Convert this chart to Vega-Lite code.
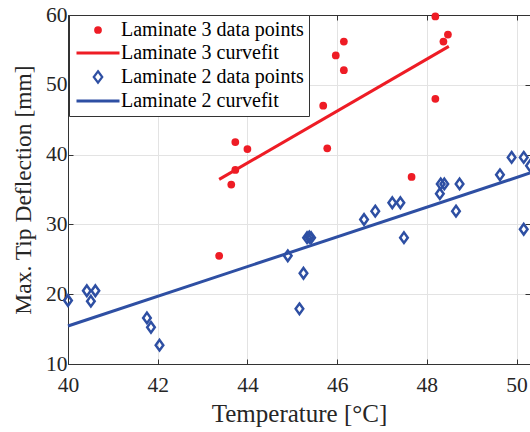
{
  "$schema": "https://vega.github.io/schema/vega-lite/v6.json",
  "width": 462,
  "height": 349,
  "autosize": {"type": "none"},
  "padding": {"left": 68, "top": 15, "right": 0, "bottom": 68},
  "background": "white",
  "config": {
    "font": "Liberation Serif",
    "view": {"stroke": null},
    "axis": {
      "labelFont": "Liberation Serif",
      "titleFont": "Liberation Serif",
      "labelFontSize": 21.5,
      "titleFontSize": 24,
      "labelColor": "#262626",
      "titleColor": "#262626",
      "titleFontWeight": "normal",
      "domainColor": "#333333",
      "tickColor": "#333333",
      "gridColor": "#e3e3e3",
      "tickSize": -5,
      "labelFlush": false
    }
  },
  "datasets": {
    "red": [
      {"t": 43.37, "d": 25.5, "series": "Laminate 3 data points"},
      {"t": 43.64, "d": 35.7, "series": "Laminate 3 data points"},
      {"t": 43.73, "d": 37.8, "series": "Laminate 3 data points"},
      {"t": 43.73, "d": 41.8, "series": "Laminate 3 data points"},
      {"t": 44.0, "d": 40.8, "series": "Laminate 3 data points"},
      {"t": 45.69, "d": 47.0, "series": "Laminate 3 data points"},
      {"t": 45.78, "d": 40.9, "series": "Laminate 3 data points"},
      {"t": 45.97, "d": 54.2, "series": "Laminate 3 data points"},
      {"t": 46.15, "d": 56.2, "series": "Laminate 3 data points"},
      {"t": 46.15, "d": 52.1, "series": "Laminate 3 data points"},
      {"t": 47.66, "d": 36.8, "series": "Laminate 3 data points"},
      {"t": 48.19, "d": 59.8, "series": "Laminate 3 data points"},
      {"t": 48.19, "d": 48.0, "series": "Laminate 3 data points"},
      {"t": 48.37, "d": 56.2, "series": "Laminate 3 data points"},
      {"t": 48.47, "d": 57.2, "series": "Laminate 3 data points"}
    ],
    "blue": [
      {"t": 40.0, "d": 19.1, "series": "Laminate 2 data points"},
      {"t": 40.42, "d": 20.5, "series": "Laminate 2 data points"},
      {"t": 40.61, "d": 20.5, "series": "Laminate 2 data points"},
      {"t": 40.51, "d": 19.0, "series": "Laminate 2 data points"},
      {"t": 41.76, "d": 16.6, "series": "Laminate 2 data points"},
      {"t": 41.85, "d": 15.25, "series": "Laminate 2 data points"},
      {"t": 42.04, "d": 12.7, "series": "Laminate 2 data points"},
      {"t": 44.9, "d": 25.5, "series": "Laminate 2 data points"},
      {"t": 45.16, "d": 17.9, "series": "Laminate 2 data points"},
      {"t": 45.25, "d": 23.0, "series": "Laminate 2 data points"},
      {"t": 45.33, "d": 28.1, "series": "Laminate 2 data points"},
      {"t": 45.38, "d": 28.2, "series": "Laminate 2 data points"},
      {"t": 45.42, "d": 28.1, "series": "Laminate 2 data points"},
      {"t": 46.6, "d": 30.7, "series": "Laminate 2 data points"},
      {"t": 46.85, "d": 31.9, "series": "Laminate 2 data points"},
      {"t": 47.23, "d": 33.1, "series": "Laminate 2 data points"},
      {"t": 47.41, "d": 33.1, "series": "Laminate 2 data points"},
      {"t": 47.49, "d": 28.1, "series": "Laminate 2 data points"},
      {"t": 48.29, "d": 34.4, "series": "Laminate 2 data points"},
      {"t": 48.31, "d": 35.8, "series": "Laminate 2 data points"},
      {"t": 48.39, "d": 35.8, "series": "Laminate 2 data points"},
      {"t": 48.65, "d": 31.9, "series": "Laminate 2 data points"},
      {"t": 48.73, "d": 35.8, "series": "Laminate 2 data points"},
      {"t": 49.63, "d": 37.1, "series": "Laminate 2 data points"},
      {"t": 49.89, "d": 39.6, "series": "Laminate 2 data points"},
      {"t": 50.16, "d": 39.6, "series": "Laminate 2 data points"},
      {"t": 50.16, "d": 29.3, "series": "Laminate 2 data points"},
      {"t": 50.3, "d": 38.4, "series": "Laminate 2 data points"}
    ],
    "fits": [
      {"t": 43.37, "d": 36.45, "series": "Laminate 3 curvefit"},
      {"t": 48.49, "d": 55.5, "series": "Laminate 3 curvefit"},
      {"t": 40.0, "d": 15.44, "series": "Laminate 2 curvefit"},
      {"t": 50.3, "d": 37.36, "series": "Laminate 2 curvefit"}
    ]
  },
  "resolve": {"axis": {"x": "independent", "y": "independent"}},
  "encoding": {
    "color": {
      "field": "series", "type": "nominal",
      "scale": {
        "domain": ["Laminate 3 data points", "Laminate 3 curvefit", "Laminate 2 data points", "Laminate 2 curvefit"],
        "range": ["#ee1c25", "#ee1c25", "#2e4fa3", "#2e4fa3"]
      },
      "legend": {
        "title": null,
        "orient": "none",
        "legendX": 1,
        "legendY": 0,
        "direction": "vertical",
        "padding": 5,
        "strokeColor": "#333333",
        "fillColor": "white",
        "labelFont": "Liberation Serif",
        "labelFontSize": 20,
        "labelColor": "#000000",
        "labelLimit": 0,
        "symbolSize": 100,
        "symbolOffset": 14,
        "labelOffset": 13,
        "rowPadding": 3,
        "encode": {
          "symbols": {
            "update": {
              "shape": {"signal": "datum.value === 'Laminate 3 data points' ? 'circle' : datum.value === 'Laminate 2 data points' ? 'M0,-1.15L0.85,0L0,1.15L-0.85,0Z' : 'M-4.3,0H4.3'"},
              "fill": {"signal": "datum.value === 'Laminate 3 data points' ? '#ee1c25' : 'transparent'"},
              "fillOpacity": {"signal": "datum.value === 'Laminate 3 data points' ? 1 : 0"},
              "stroke": {"signal": "indexof(datum.value, '3') >= 0 ? '#ee1c25' : '#2e4fa3'"},
              "strokeOpacity": {"value": 1},
              "strokeWidth": {"signal": "datum.value === 'Laminate 3 data points' ? 0 : datum.value === 'Laminate 2 data points' ? 2.2 : 3"},
              "size": {"signal": "datum.value === 'Laminate 3 data points' ? 60 : 100"},
              "opacity": {"value": 1}
            }
          }
        }
      }
    }
  },
  "layer": [
    {
      "data": {"name": "red"},
      "mark": {"type": "point", "shape": "circle", "filled": true, "size": 60, "opacity": 1},
      "encoding": {
        "x": {
          "field": "t", "type": "quantitative",
          "scale": {"domain": [40, 50.3], "nice": false, "zero": false},
          "axis": {"values": [40, 42, 44, 46, 48, 50], "title": "Temperature [°C]", "titleFontSize": 25, "grid": true, "labelPadding": 15, "titlePadding": 6, "format": "d"}
        },
        "y": {
          "field": "d", "type": "quantitative",
          "scale": {"domain": [10, 60], "nice": false, "zero": false},
          "axis": {"values": [10, 20, 30, 40, 50, 60], "title": "Max. Tip Deflection [mm]", "titleFontSize": 23.5, "grid": true, "labelPadding": 6, "titlePadding": 10, "format": "d"}
        }
      }
    },
    {
      "data": {"name": "fits"},
      "mark": {"type": "line", "strokeWidth": 3},
      "encoding": {
        "x": {"field": "t", "type": "quantitative", "axis": {"orient": "top", "values": [40, 42, 44, 46, 48, 50], "labels": false, "title": null, "grid": false, "domain": true}},
        "y": {"field": "d", "type": "quantitative", "axis": {"orient": "right", "values": [10, 20, 30, 40, 50, 60], "labels": false, "title": null, "grid": false, "domain": false}},
        "detail": {"field": "series"}
      }
    },
    {
      "data": {"name": "blue"},
      "mark": {"type": "point", "shape": "M0,-1L0.72,0L0,1L-0.72,0Z", "filled": false, "size": 112, "strokeWidth": 2.5, "opacity": 1},
      "encoding": {
        "x": {"field": "t", "type": "quantitative", "axis": null},
        "y": {"field": "d", "type": "quantitative", "axis": null}
      }
    }
  ]
}
